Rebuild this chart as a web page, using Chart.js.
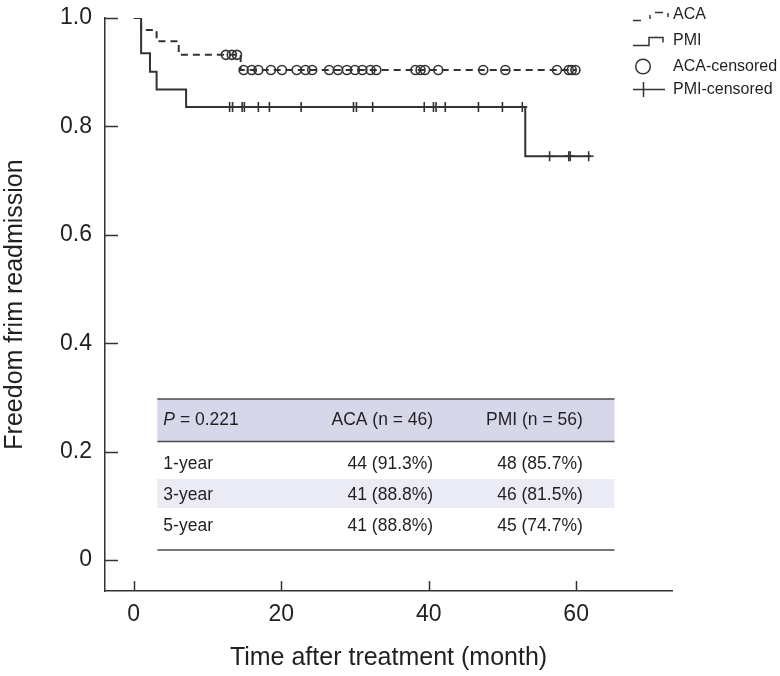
<!DOCTYPE html>
<html>
<head>
<meta charset="utf-8">
<script src="https://cdn.jsdelivr.net/npm/chart.js@4/dist/chart.umd.min.js"></script>
<style>
  html, body { margin: 0; padding: 0; background: #ffffff; }
  #wrap { width: 780px; height: 676px; position: relative; }
</style>
</head>
<body>
<div id="wrap"><canvas id="c" width="780" height="676"></canvas></div>
<script>
// ---- Data ----
const acaTimes = [0, 1.0, 3.1, 6.1, 14.5, 60.0];
const acaSurv  = [1.0, 0.978, 0.957, 0.932, 0.904, 0.904];
const pmiTimes = [0, 1.0, 2.2, 3.1, 7.1, 53.1, 62.0];
const pmiSurv  = [1.0, 0.935, 0.901, 0.868, 0.836, 0.745, 0.745];
const acaCensorTimes = [12.5, 13.3, 14.0, 14.9, 16.0, 16.9, 18.6, 20.1, 22.1, 23.3, 24.2, 26.5, 27.7, 28.9, 30.0, 31.0, 32.1, 32.9, 38.2, 38.9, 39.5, 41.3, 47.4, 50.4, 57.4, 59.0, 59.4, 59.9];
const pmiCensorTimes = [13.0, 13.4, 14.7, 15.0, 16.9, 18.4, 22.7, 29.8, 30.2, 32.4, 39.4, 40.65, 41.0, 42.25, 46.75, 50.0, 52.7, 56.4, 59.0, 59.2, 61.7];
const xTickValues = [0, 20, 40, 60];
const yTickValues = [0, 0.2, 0.4, 0.6, 0.8, 1.0];
const legendLabels = ["ACA", "PMI", "ACA-censored", "PMI-censored"];
const tableHeader = ["= 0.221", "ACA (n = 46)", "PMI (n = 56)"];
const tableRowLabels = ["1-year", "3-year", "5-year"];
const tableAca = ["44 (91.3%)", "41 (88.8%)", "41 (88.8%)"];
const tablePmi = ["48 (85.7%)", "46 (81.5%)", "45 (74.7%)"];
const xTitle = "Time after treatment (month)";
const yTitle = "Freedom frim readmission";

// KM value at time t (step function lookup)
function kmAt(times, surv, t) {
  let v = surv[0];
  for (let i = 0; i < times.length; i++) { if (times[i] <= t) v = surv[i]; }
  return v;
}
const pts = (xs, ys) => xs.map((x, i) => ({x: x, y: ys[i]}));

const FONT = "'Liberation Sans', Arial, sans-serif";
const INK = '#231f20';
const LINE = '#333333';

const decorPlugin = {
  id: 'decor',
  afterDraw(chart) {
    const ctx = chart.ctx;
    const xs = chart.scales.x, ys = chart.scales.y;
    const ca = chart.chartArea;
    ctx.save();
    // inward tick marks
    ctx.strokeStyle = LINE; ctx.lineWidth = 1.5;
    yTickValues.forEach(v => {
      const py = Math.round(ys.getPixelForValue(v)) + 0.5;
      ctx.beginPath(); ctx.moveTo(ca.left, py); ctx.lineTo(ca.left + 13, py); ctx.stroke();
    });
    xTickValues.forEach(v => {
      const px = Math.round(xs.getPixelForValue(v)) + 0.5;
      ctx.beginPath(); ctx.moveTo(px, ca.bottom); ctx.lineTo(px, ca.bottom - 10); ctx.stroke();
    });

    // table
    const L = xs.getPixelForValue(3.2), R = xs.getPixelForValue(65.2);
    const yTop = ys.getPixelForValue(0.297), yHdrB = ys.getPixelForValue(0.219);
    const y3a = ys.getPixelForValue(0.1495), y3b = ys.getPixelForValue(0.0960);
    const yBot = ys.getPixelForValue(0.0185);
    ctx.fillStyle = '#d7d7ea';
    ctx.fillRect(L, yTop, R - L, yHdrB - yTop);
    ctx.fillStyle = '#ebebf5';
    ctx.fillRect(L, y3a, R - L, y3b - y3a);
    ctx.strokeStyle = '#4a4a4a'; ctx.lineWidth = 1.5;
    [yTop, yHdrB, yBot].forEach(yy => {
      ctx.beginPath(); ctx.moveTo(L, yy); ctx.lineTo(R, yy); ctx.stroke();
    });
    const c1 = L + 6, c2 = xs.getPixelForValue(40.6), c3 = xs.getPixelForValue(60.9);
    ctx.fillStyle = INK; ctx.textBaseline = 'middle';
    const hy = (yTop + yHdrB) / 2;
    ctx.font = 'italic 17.5px ' + FONT; ctx.textAlign = 'left';
    ctx.fillText('P', c1, hy);
    const pw = ctx.measureText('P').width;
    ctx.font = '17.5px ' + FONT;
    ctx.fillText(' ' + tableHeader[0], c1 + pw, hy);
    ctx.textAlign = 'right';
    ctx.fillText(tableHeader[1], c2, hy);
    ctx.fillText(tableHeader[2], c3, hy);
    const rowY = [ys.getPixelForValue(0.1775), ys.getPixelForValue(0.1205), ys.getPixelForValue(0.0635)];
    tableRowLabels.forEach((lab, i) => {
      ctx.textAlign = 'left'; ctx.fillText(lab, c1, rowY[i]);
      ctx.textAlign = 'right'; ctx.fillText(tableAca[i], c2, rowY[i]); ctx.fillText(tablePmi[i], c3, rowY[i]);
    });

    // legend (top right)
    const lx = 633, tx = 673;
    ctx.strokeStyle = LINE; ctx.lineWidth = 1.5;
    // ACA dashed step icon
    ctx.beginPath(); ctx.moveTo(lx, 20.5); ctx.lineTo(lx + 8, 20.5); ctx.stroke();
    ctx.beginPath(); ctx.moveTo(lx + 17, 19); ctx.lineTo(lx + 17, 15); ctx.stroke();
    ctx.beginPath(); ctx.moveTo(lx + 22, 12.5); ctx.lineTo(lx + 30, 12.5); ctx.stroke();
    ctx.beginPath(); ctx.moveTo(lx + 35, 13); ctx.lineTo(lx + 35, 17); ctx.stroke();
    // PMI step icon
    ctx.beginPath(); ctx.moveTo(lx, 45.5); ctx.lineTo(lx + 16, 45.5); ctx.lineTo(lx + 16, 37.5);
    ctx.lineTo(lx + 30, 37.5); ctx.lineTo(lx + 30, 42.5); ctx.stroke();
    // circle icon
    ctx.beginPath(); ctx.arc(643, 66.5, 7.3, 0, Math.PI * 2); ctx.stroke();
    // cross icon
    ctx.beginPath(); ctx.moveTo(lx, 89.5); ctx.lineTo(665, 89.5); ctx.moveTo(643.5, 82); ctx.lineTo(643.5, 97); ctx.stroke();
    ctx.fillStyle = INK; ctx.font = '16px ' + FONT; ctx.textAlign = 'left'; ctx.textBaseline = 'middle';
    const ly = [15, 40.5, 66.5, 89.5];
    legendLabels.forEach((t, i) => ctx.fillText(t, tx, ly[i]));
    ctx.restore();
  }
};

new Chart(document.getElementById('c'), {
  type: 'scatter',
  data: {
    datasets: [
      { label: legendLabels[0], data: pts(acaTimes, acaSurv), showLine: true, stepped: 'before',
        borderColor: LINE, borderWidth: 2, borderDash: [7, 5], pointRadius: 0, fill: false },
      { label: legendLabels[1], data: pts(pmiTimes, pmiSurv), showLine: true, stepped: 'before',
        borderColor: LINE, borderWidth: 2, pointRadius: 0, fill: false },
      { label: legendLabels[2], data: acaCensorTimes.map(t => ({x: t, y: kmAt(acaTimes, acaSurv, t)})),
        showLine: false, pointStyle: 'circle', pointRadius: 4.5, pointBorderWidth: 1.6,
        pointBorderColor: LINE, pointBackgroundColor: 'rgba(0,0,0,0)', borderColor: LINE, backgroundColor: 'rgba(0,0,0,0)' },
      { label: legendLabels[3], data: pmiCensorTimes.map(t => ({x: t, y: kmAt(pmiTimes, pmiSurv, t)})),
        showLine: false, pointStyle: 'cross', pointRadius: 5, pointBorderWidth: 1.6,
        pointBorderColor: LINE, borderColor: LINE, backgroundColor: LINE }
    ]
  },
  options: {
    responsive: false,
    animation: false,
    events: [],
    layout: { padding: { top: 18, right: 108, bottom: 0, left: 0 } },
    plugins: { legend: { display: false }, tooltip: { enabled: false } },
    scales: {
      x: {
        type: 'linear', min: -3.9, max: 73,
        afterBuildTicks: s => { s.ticks = xTickValues.map(v => ({value: v})); },
        afterFit: s => { s.height = 85; s.paddingLeft = 0; s.paddingRight = 0; },
        grid: { display: false, drawTicks: false },
        border: { display: true, color: LINE, width: 1.5 },
        ticks: { padding: 10, color: INK, font: { family: FONT, size: 23 }, maxRotation: 0 },
        title: { display: true, text: xTitle, color: INK, font: { family: FONT, size: 25 }, padding: { top: 4, bottom: 3 } }
      },
      y: {
        type: 'linear', min: -0.057, max: 1.0,
        afterBuildTicks: s => { s.ticks = yTickValues.map(v => ({value: v})); },
        afterFit: s => { s.width = 105; s.paddingTop = 0; s.paddingBottom = 0; },
        grid: { display: false, drawTicks: false },
        border: { display: true, color: LINE, width: 1.5 },
        ticks: { padding: 13, color: INK, font: { family: FONT, size: 23 },
          callback: v => v === 0 ? '0' : v.toFixed(1) },
        title: { display: true, text: yTitle, color: INK, font: { family: FONT, size: 25 }, padding: { top: 0, bottom: 0 } }
      }
    }
  },
  plugins: [decorPlugin]
});
</script>
</body>
</html>
